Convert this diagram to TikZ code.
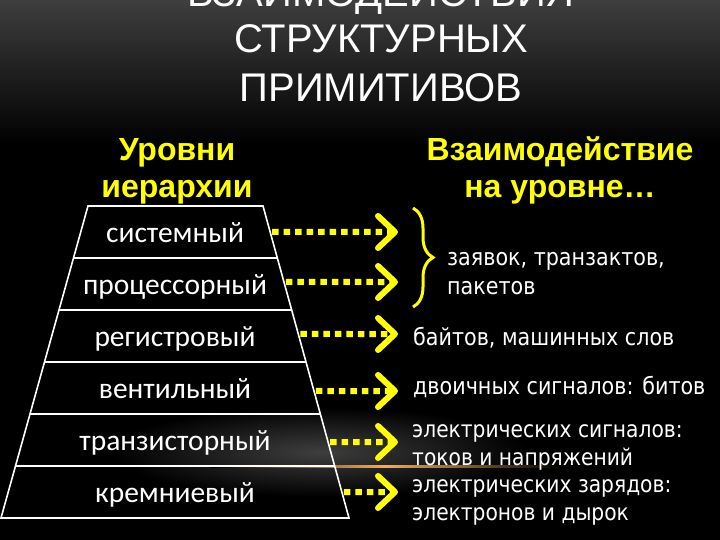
\documentclass[tikz,border=0pt]{standalone}
\usepackage{fontspec}
\setmainfont{Liberation Sans}
\newfontfamily\lvlfont{Carlito}
\newfontfamily\rtfont{DejaVu Sans}[FakeStretch=0.88]
\usetikzlibrary{arrows.meta,calc,decorations.pathreplacing,shadings}
\definecolor{ylw}{RGB}{255,255,0}
\definecolor{flare}{RGB}{235,175,95}
\definecolor{topgray}{RGB}{62,62,62}
\definecolor{glowgray}{RGB}{62,62,62}
\begin{document}
\begin{tikzpicture}[x=1pt,y=-1pt,
  title/.style={anchor=base,text=white,font=\fontsize{40}{40}\selectfont,inner sep=0pt},
  head/.style={anchor=base,text=ylw,font=\bfseries\fontsize{32}{37}\selectfont,align=center,inner sep=0pt},
  lvl/.style={anchor=base,text=white,font=\lvlfont\fontsize{29.5}{30}\selectfont,inner sep=0pt},
  desc/.style={anchor=base west,text=white,font=\rtfont\fontsize{23.5}{29}\selectfont,align=left,inner sep=0pt},
  descsmall/.style={desc,font=\rtfont\fontsize{23}{27.5}\selectfont},
  trap/.style={draw=white,line width=1.6pt},
  dotarrow/.style={draw=ylw,line width=6pt,dash pattern=on 6.5pt off 5pt,
    -{Straight Barb[length=17pt,width=32pt,round]}},
  bracestyle/.style={draw=ylw,line width=3pt,decorate,decoration={brace,amplitude=20pt}}
]
\useasboundingbox (0,0) rectangle (720,540);
% background
\fill[black] (0,0) rectangle (720,540);
\shade[top color=topgray,bottom color=black] (0,0) rectangle (720,145);
\shade[inner color=glowgray,outer color=black] (320,452) ellipse [x radius=210, y radius=45];
\shade[left color=black,right color=black,middle color=flare] (210,465) rectangle (560,467.5);

% title
\node[title] (ti1) at (381,7) {ВЗАИМОДЕЙСТВИЯ};
\node[title] (ti2) at (381,53) {СТРУКТУРНЫХ};
\node[title] (ti3) at (381,102) {ПРИМИТИВОВ};

% headings (base = baseline of last line)
\node[head] (hl) at (177,198) {Уровни\\иерархии};
\node[head] (hr) at (560,198) {Взаимодействие\\на уровне…};

% pyramid
\coordinate (tl) at (88,206);
\coordinate (tr) at (263,206);
\coordinate (br) at (349,518);
\coordinate (bl) at (1,518);
\draw[trap] (tl) -- (tr) -- (br) -- (bl) -- cycle;
\foreach \k in {1,...,5}
  \draw[trap] ($(tl)!\k/6!(bl)$) -- ($(tr)!\k/6!(br)$);

\node[lvl] (l1) at (175,242) {системный};
\node[lvl] (l2) at (175,294) {процессорный};
\node[lvl] (l3) at (175,346) {регистровый};
\node[lvl] (l4) at (175,398) {вентильный};
\node[lvl] (l5) at (175,450) {транзисторный};
\node[lvl] (l6) at (175,502) {кремниевый};

% descriptions (base = baseline of last line)
\node[desc] (d1) at (447,294) {заявок, транзактов,\\пакетов};
\node[desc] (d3) at (413,345) {байтов, машинных слов};
\node[desc] (d4) at (413,394) {двоичных сигналов: битов};
\node[descsmall] (d5) at (412,465) {электрических сигналов:\\токов и напряжений};
\node[descsmall] (d6) at (412,520) {электрических зарядов:\\электронов и дырок};

% brace
\coordinate (b1) at (413,208);
\coordinate (b2) at (413,307);
\draw[bracestyle] (b1) -- (b2);

% arrows
\foreach \i/\y in {1/232,2/282,3/334,4/391,5/442,6/492}{
  \coordinate (a\i) at ($($(tr)!{(\y-206)/312}!(br)$)+(2,0)$);
  \coordinate (e\i) at (398,\y);
  \draw[dotarrow] (a\i) -- (e\i);
}
\end{tikzpicture}
\end{document}
